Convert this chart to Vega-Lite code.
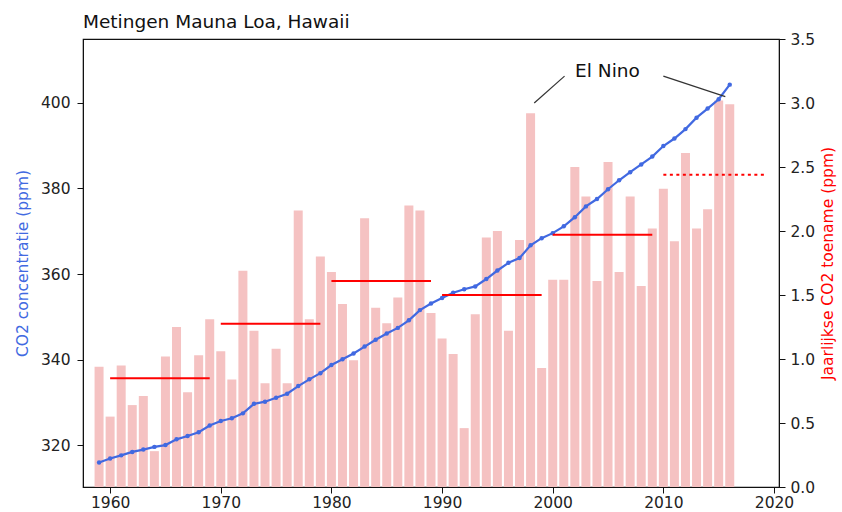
{
  "$schema": "https://vega.github.io/schema/vega-lite/v6.json",
  "autosize": {"type": "none"},
  "width": 696,
  "height": 448,
  "padding": {"left": 83, "top": 39, "right": 63, "bottom": 25},
  "title": {"text": "Metingen Mauna Loa, Hawaii", "anchor": "start", "frame": "group", "font": "DejaVu Sans", "fontSize": 18.5, "fontWeight": "normal", "color": "#111", "baseline": "bottom", "offset": 9, "dy": 27},
  "config": {
    "view": {"stroke": "#111", "strokeWidth": 1.2},
    "axis": {"labelFont": "DejaVu Sans", "labelFontSize": 15.5, "labelColor": "#222", "titleFont": "DejaVu Sans", "titleFontSize": 15.5, "titleFontWeight": "normal", "domainColor": "#111", "tickColor": "#111", "tickSize": 6, "grid": false, "labelPadding": 5}
  },
  "datasets": {
    "co2": [
      {"year": 1959, "co2": 315.97, "inc": 0.94}, {"year": 1960, "co2": 316.91, "inc": 0.55}, {"year": 1961, "co2": 317.64, "inc": 0.95},
      {"year": 1962, "co2": 318.45, "inc": 0.64}, {"year": 1963, "co2": 318.99, "inc": 0.71}, {"year": 1964, "co2": 319.62, "inc": 0.28},
      {"year": 1965, "co2": 320.04, "inc": 1.02}, {"year": 1966, "co2": 321.38, "inc": 1.25}, {"year": 1967, "co2": 322.16, "inc": 0.74},
      {"year": 1968, "co2": 323.04, "inc": 1.03}, {"year": 1969, "co2": 324.62, "inc": 1.31}, {"year": 1970, "co2": 325.68, "inc": 1.06},
      {"year": 1971, "co2": 326.32, "inc": 0.84}, {"year": 1972, "co2": 327.45, "inc": 1.69}, {"year": 1973, "co2": 329.68, "inc": 1.22},
      {"year": 1974, "co2": 330.18, "inc": 0.81}, {"year": 1975, "co2": 331.11, "inc": 1.08}, {"year": 1976, "co2": 332.04, "inc": 0.81},
      {"year": 1977, "co2": 333.83, "inc": 2.16}, {"year": 1978, "co2": 335.40, "inc": 1.31}, {"year": 1979, "co2": 336.84, "inc": 1.80},
      {"year": 1980, "co2": 338.75, "inc": 1.68}, {"year": 1981, "co2": 340.11, "inc": 1.43}, {"year": 1982, "co2": 341.45, "inc": 0.99},
      {"year": 1983, "co2": 343.05, "inc": 2.10}, {"year": 1984, "co2": 344.65, "inc": 1.40}, {"year": 1985, "co2": 346.12, "inc": 1.28},
      {"year": 1986, "co2": 347.42, "inc": 1.48}, {"year": 1987, "co2": 349.19, "inc": 2.20}, {"year": 1988, "co2": 351.57, "inc": 2.16},
      {"year": 1989, "co2": 353.12, "inc": 1.36}, {"year": 1990, "co2": 354.39, "inc": 1.16}, {"year": 1991, "co2": 355.61, "inc": 1.04},
      {"year": 1992, "co2": 356.45, "inc": 0.46}, {"year": 1993, "co2": 357.10, "inc": 1.35}, {"year": 1994, "co2": 358.83, "inc": 1.95},
      {"year": 1995, "co2": 360.82, "inc": 2.00}, {"year": 1996, "co2": 362.61, "inc": 1.22}, {"year": 1997, "co2": 363.73, "inc": 1.93},
      {"year": 1998, "co2": 366.70, "inc": 2.92}, {"year": 1999, "co2": 368.38, "inc": 0.93}, {"year": 2000, "co2": 369.55, "inc": 1.62},
      {"year": 2001, "co2": 371.14, "inc": 1.62}, {"year": 2002, "co2": 373.28, "inc": 2.50}, {"year": 2003, "co2": 375.80, "inc": 2.27},
      {"year": 2004, "co2": 377.52, "inc": 1.61}, {"year": 2005, "co2": 379.80, "inc": 2.54}, {"year": 2006, "co2": 381.90, "inc": 1.68},
      {"year": 2007, "co2": 383.79, "inc": 2.27}, {"year": 2008, "co2": 385.60, "inc": 1.57}, {"year": 2009, "co2": 387.43, "inc": 2.02},
      {"year": 2010, "co2": 389.90, "inc": 2.33}, {"year": 2011, "co2": 391.65, "inc": 1.92}, {"year": 2012, "co2": 393.85, "inc": 2.61},
      {"year": 2013, "co2": 396.52, "inc": 2.02}, {"year": 2014, "co2": 398.65, "inc": 2.17}, {"year": 2015, "co2": 400.83, "inc": 3.02},
      {"year": 2016, "co2": 404.24, "inc": 2.99}
    ],
    "decades": [
      {"start": 1960, "end": 1969, "avg": 0.85, "style": "solid"},
      {"start": 1970, "end": 1979, "avg": 1.275, "style": "solid"},
      {"start": 1980, "end": 1989, "avg": 1.61, "style": "solid"},
      {"start": 1990, "end": 1999, "avg": 1.5, "style": "solid"},
      {"start": 2000, "end": 2009, "avg": 1.97, "style": "solid"},
      {"start": 2010, "end": 2019.2, "avg": 2.44, "style": "dotted"}
    ],
    "ann": [
      {"x": 1998.33, "y": 3.0, "x2": 2001.07, "y2": 3.21},
      {"x": 2010.0, "y": 3.21, "x2": 2015.6, "y2": 3.05}
    ],
    "label": [{"x": 2004.95, "y": 3.25, "text": "El Nino"}]
  },
  "layer": [
    {
      "data": {"name": "co2"},
      "mark": {"type": "bar", "color": "#f5c2c2", "size": 9},
      "encoding": {
        "x": {"field": "year", "type": "quantitative", "scale": {"domain": [1958, 2020], "nice": false, "zero": false},
              "axis": {"values": [1960, 1970, 1980, 1990, 2000, 2010, 2020], "format": "d", "title": null, "labelPadding": 2}},
        "y": {"field": "inc", "type": "quantitative", "scale": {"domain": [0, 3.5], "nice": false},
              "axis": {"orient": "right", "values": [0, 0.5, 1, 1.5, 2, 2.5, 3, 3.5], "format": ".1f", "title": "Jaarlijkse CO2 toename (ppm)", "titleColor": "red", "titleAngle": -90, "titleBaseline": "top", "titlePadding": 6}}
      }
    },
    {
      "data": {"name": "co2"},
      "mark": {"type": "line", "color": "#4169e1", "strokeWidth": 2.2, "point": {"filled": true, "size": 20, "color": "#4169e1"}},
      "encoding": {
        "x": {"field": "year", "type": "quantitative"},
        "y": {"field": "co2", "type": "quantitative", "scale": {"domain": [310.25, 414.9], "nice": false, "zero": false},
              "axis": {"orient": "left", "values": [320, 340, 360, 380, 400], "title": "CO2 concentratie (ppm)", "titleColor": "#4169e1", "titlePadding": 10, "labelPadding": 7}}
      }
    },
    {
      "data": {"name": "decades"},
      "mark": {"type": "rule", "color": "red", "strokeWidth": 2},
      "encoding": {
        "x": {"field": "start", "type": "quantitative"},
        "x2": {"field": "end"},
        "y": {"field": "avg", "type": "quantitative", "scale": {"domain": [0, 3.5], "nice": false}, "axis": null},
        "strokeDash": {"field": "style", "type": "nominal", "scale": {"domain": ["solid", "dotted"], "range": [[1, 0], [3, 3.5]]}, "legend": null}
      }
    },
    {
      "data": {"name": "ann"},
      "mark": {"type": "rule", "color": "#333", "strokeWidth": 1.2},
      "encoding": {
        "x": {"field": "x", "type": "quantitative"},
        "x2": {"field": "x2"},
        "y": {"field": "y", "type": "quantitative", "scale": {"domain": [0, 3.5], "nice": false}, "axis": null},
        "y2": {"field": "y2"}
      }
    },
    {
      "data": {"name": "label"},
      "mark": {"type": "text", "font": "DejaVu Sans", "fontSize": 18.5, "color": "#111", "align": "center", "baseline": "middle"},
      "encoding": {
        "x": {"field": "x", "type": "quantitative"},
        "y": {"field": "y", "type": "quantitative", "scale": {"domain": [0, 3.5], "nice": false}, "axis": null},
        "text": {"field": "text"}
      }
    }
  ],
  "resolve": {"scale": {"y": "independent", "strokeDash": "independent"}}
}
